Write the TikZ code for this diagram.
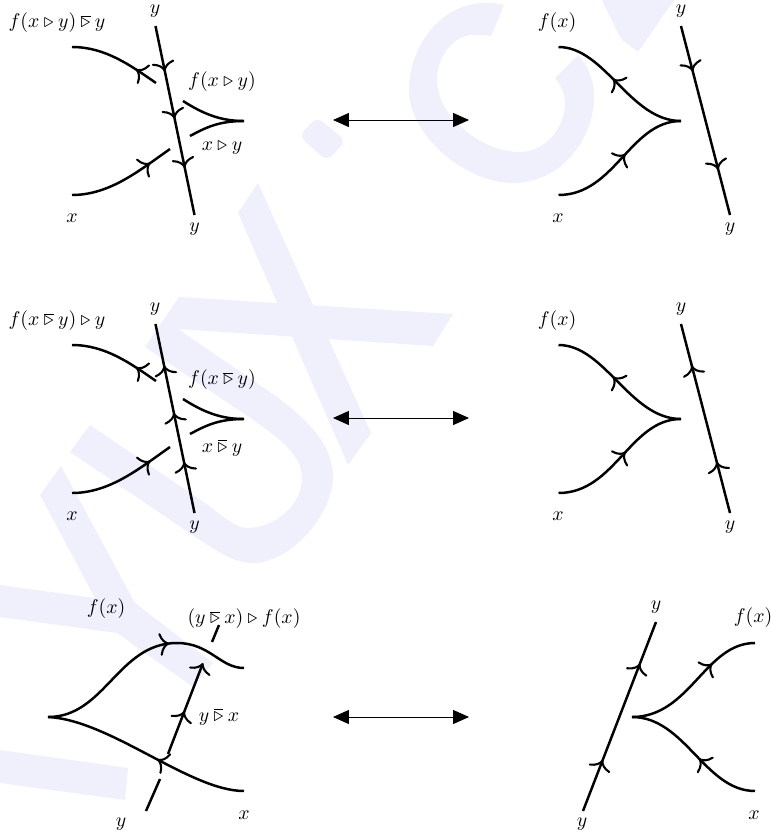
\documentclass[tikz,border=0pt]{standalone}
\usepackage{amsmath}
\usepackage{amssymb}
\usepackage{xcolor}
\usetikzlibrary{arrows.meta, decorations.markings}
\definecolor{wmark}{HTML}{F0F0FD}
\newcommand{\barrack}{\mathbin{\overline{\triangleright}}}

\begin{document}
\begin{tikzpicture}[
  x=0.526pt, y=-0.526pt,
  every node/.style={scale=1.04},
  strand/.style={line width=1.3pt},
  mk/.style={postaction={decorate, decoration={markings,
      mark=at position #1 with {\arrow{Computer Modern Rightarrow[length=5.2pt,width=12pt,line width=1.1pt]}}}}},
  tipend/.style={-{Computer Modern Rightarrow[length=5.2pt,width=12pt,line width=1.1pt]}},
  move/.style={line width=0.5pt, {Triangle[length=8.4pt,width=7.4pt]}-{Triangle[length=8.4pt,width=7.4pt]}},
  wm/.style={fill=wmark, draw=none}
]
\useasboundingbox (0,0) rectangle (771,832);

% watermark behind everything
\fill[wm] (0,750) -- (128,768) -- (125,800) -- (0,783) -- cycle;
\fill[wm] (61,466) -- (135,603) -- (213,663) -- (193,687) -- (117,633) -- (0,617)
  -- (0,585) -- (95,598) -- (40,495) -- cycle;
\fill[wm] (453,314) -- (433,346) -- (178,329) -- (277,397)
  .. controls (315,425) and (333,450) .. (333,477)
  .. controls (333,515) and (290,563) .. (253,563)
  .. controls (235,563) and (220,553) .. (200,540)
  -- (70,452) -- (90,425) -- (205,503)
  .. controls (222,515) and (235,528) .. (247,528)
  .. controls (275,528) and (302,505) .. (302,478)
  .. controls (302,455) and (280,438) .. (243,413)
  -- (145,347) -- (179,297) -- cycle;
\fill[wm] (258,183) -- (371,433) -- (348,465) -- (238,213) -- cycle;
\fill[wm, rounded corners=4pt] (299,136) -- (317,117) -- (346,141) -- (327,161) -- cycle;
\fill[wm] (504,5) .. controls (450,-8) and (409,40) .. (409,90)
  .. controls (409,135) and (465,183) .. (513,183)
  .. controls (560,183) and (594,140) .. (594,97)
  .. controls (594,80) and (588,65) .. (578,55)
  -- (555,78) .. controls (561,85) and (565,95) .. (565,103)
  .. controls (565,128) and (545,152) .. (520,152)
  .. controls (480,152) and (437,115) .. (437,80)
  .. controls (437,55) and (455,35) .. (473,35)
  .. controls (480,35) and (486,35) .. (491,36) -- cycle;
\fill[wm] (602,0) -- (621,39) -- (638,52) -- (674,0) -- cycle;

% first two rows share their geometry
\foreach \r/\yy in {1/0, 2/298}{
  \coordinate (ul\r) at (72,47+\yy);
  \coordinate (um\r) at (156,83+\yy);
  \coordinate (ll\r) at (72,195+\yy);
  \coordinate (lm\r) at (170,149+\yy);
  \coordinate (tt\r) at (155.5,26+\yy);
  \coordinate (tb\r) at (194.5,215+\yy);
  \coordinate (cu\r) at (183,101+\yy);
  \coordinate (cl\r) at (190,136+\yy);
  \coordinate (cj\r) at (244,121+\yy);
  \coordinate (ru\r) at (558.5,47+\yy);
  \coordinate (rl\r) at (558.5,195+\yy);
  \coordinate (rj\r) at (681,121+\yy);
  \coordinate (st\r) at (681,26+\yy);
  \coordinate (sb\r) at (730,215+\yy);
  \coordinate (ml\r) at (333,120+\yy);
  \coordinate (mr\r) at (469,120+\yy);
  \draw[strand, mk=0.26] (um\r) .. controls (130,65+\yy) and (105,47+\yy) .. (ul\r);
  \draw[strand, mk=0.78] (ll\r) .. controls (110,195+\yy) and (140,170+\yy) .. (lm\r);
  \draw[strand] (cu\r) .. controls (205,115+\yy) and (222,121+\yy) .. (cj\r);
  \draw[strand] (cl\r) .. controls (205,128+\yy) and (218,121+\yy) .. (cj\r);
  \draw[strand, mk=0.56] (rj\r) .. controls (630,121+\yy) and (605,47+\yy) .. (ru\r);
  \draw[strand, mk=0.55] (rl\r) .. controls (615,195+\yy) and (630,121+\yy) .. (rj\r);
  \draw[move] (ml\r) -- (mr\r);
  \node (x\r) at (72,218+\yy) {$x$};
  \node (y\r) at (194.5,229+\yy) {$y$};
  \node (yt\r) at (155,11+\yy) {$y$};
  \node (fr\r) at (557,23+\yy) {$f(x)$};
  \node (yr\r) at (681,11+\yy) {$y$};
  \node (xr\r) at (558,218+\yy) {$x$};
  \node (ys\r) at (730,229+\yy) {$y$};
}

% row 1
\draw[strand, mk=0.24, mk=0.49, mk=0.75] (tt1) -- (tb1);
\draw[strand, mk=0.24, mk=0.76] (st1) -- (sb1);
\node (fa1) at (57,23) {$f(x \triangleright y) \barrack y$};
\node (fb1) at (222,82) {$f(x \triangleright y)$};
\node (xb1) at (222,148) {$x \triangleright y$};

% row 2
\draw[strand, mk=0.27, mk=0.53, mk=0.78] (tb2) -- (tt2);
\draw[strand, mk=0.27, mk=0.78] (sb2) -- (st2);
\node (fa2) at (57,321) {$f(x \barrack y) \triangleright y$};
\node (fb2) at (222,380) {$f(x \barrack y)$};
\node (xb2) at (222,448) {$x \barrack y$};

% row 3, left
\coordinate (ja) at (48,717);
\coordinate (ju) at (244,668);
\coordinate (jl) at (244,791);
\coordinate (pk) at (177,643);
\coordinate (ya) at (146,811);
\coordinate (yb) at (160,779);
\coordinate (yc) at (168,754);
\coordinate (yd) at (203,663);
\coordinate (ye) at (212,642);
\coordinate (yf) at (219,625);
\draw[strand, mk=0.95] (ja) .. controls (105,717) and (118,643) .. (pk);
\draw[strand] (pk) .. controls (210,643) and (220,668) .. (ju);
\draw[strand, mk=0.44] (jl) .. controls (190,791) and (110,720) .. (ja);
\draw[strand] (ya) -- (yb);
\draw[strand, tipend, mk=0.47] (yc) -- (yd);
\draw[strand] (ye) -- (yf);
\node (f3) at (106,609) {$f(x)$};
\node (fy3) at (244,619) {$(y \barrack x) \triangleright f(x)$};
\node (yx3) at (219,717) {$y \barrack x$};
\node (x3) at (244,815) {$x$};
\node (y3) at (121,824) {$y$};

% row 3, right
\coordinate (sa) at (583,811);
\coordinate (sc) at (656,622);
\coordinate (rj) at (632,717);
\coordinate (ru) at (755,643);
\coordinate (rl) at (755,791);
\draw[strand, mk=0.27, mk=0.78] (sa) -- (sc);
\draw[strand, mk=0.67] (rj) .. controls (690,717) and (705,643) .. (ru);
\draw[strand, mk=0.45] (rl) .. controls (705,791) and (685,717) .. (rj);
\draw[move] (333,717) coordinate (ml3) -- (469,717) coordinate (mr3);
\node (y4) at (656,607) {$y$};
\node (f4) at (753,618) {$f(x)$};
\node (y5) at (582,824) {$y$};
\node (x4) at (754,815) {$x$};
\end{tikzpicture}
\end{document}
